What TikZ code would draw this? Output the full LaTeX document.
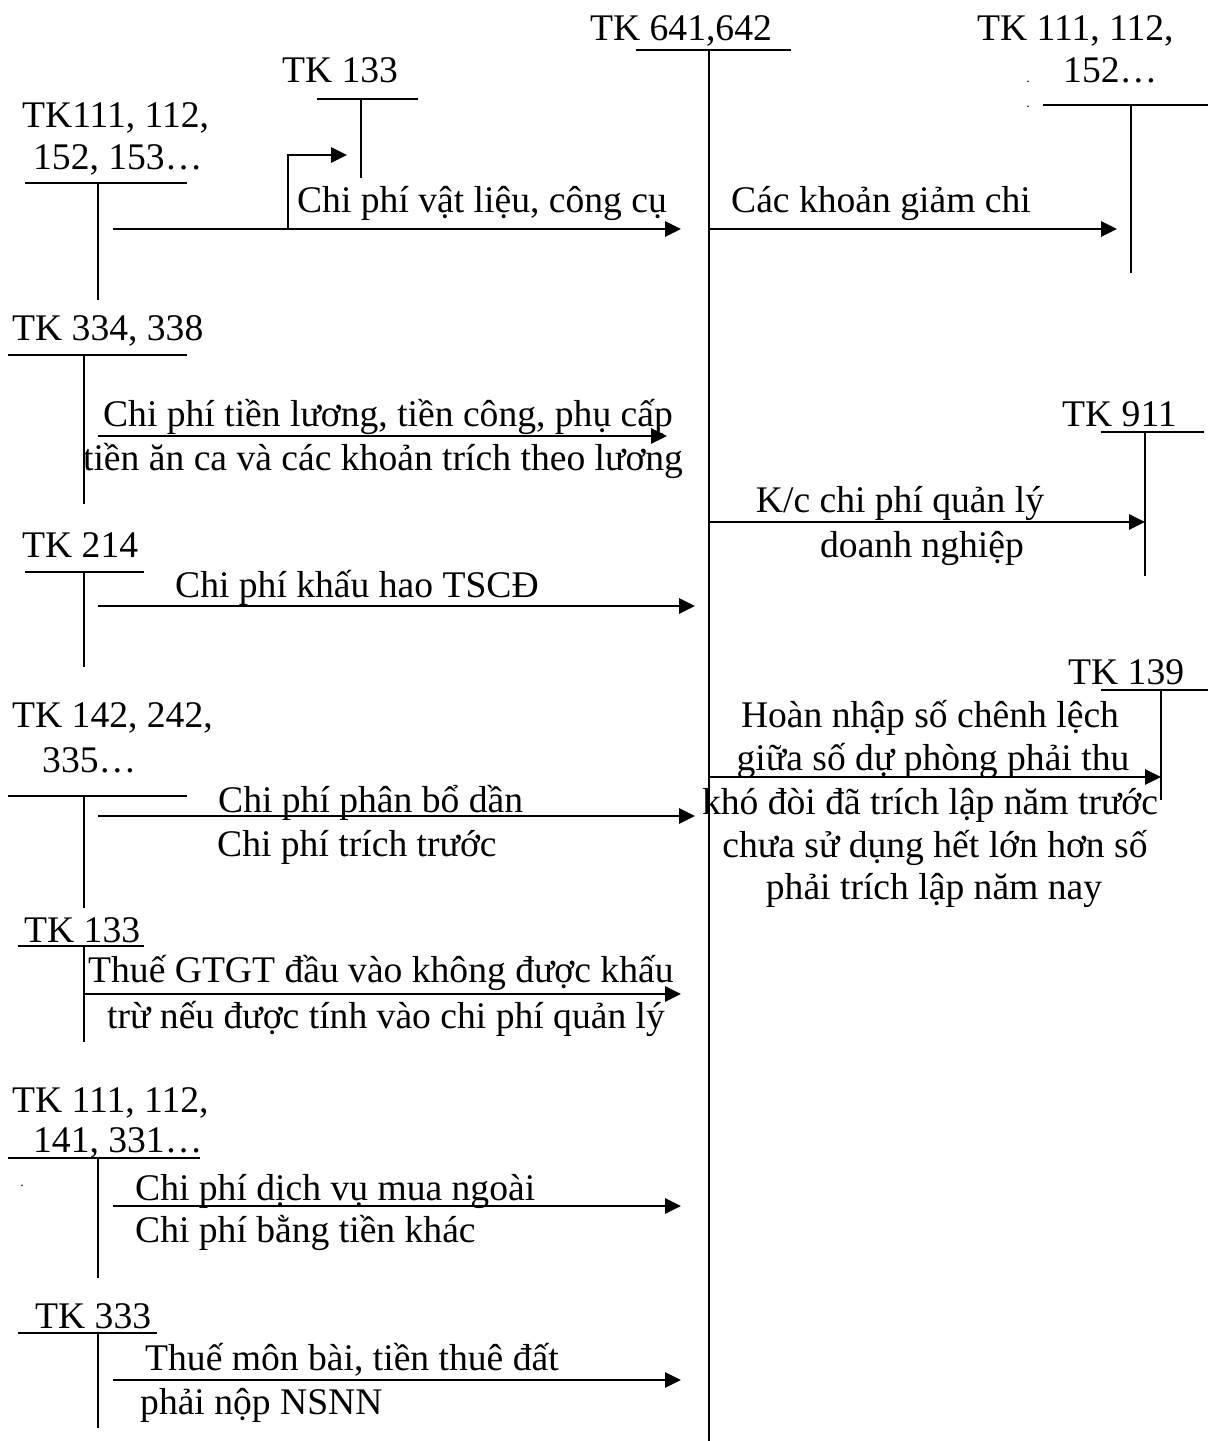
\documentclass[tikz,border=0pt]{standalone}
\usepackage{fontspec}
\setmainfont{Liberation Serif}
\usetikzlibrary{arrows.meta}
\begin{document}
\begin{tikzpicture}[x=1pt,y=-1pt,
  tline/.style={line width=1.8pt},
  flow/.style={line width=2.8pt,-{Triangle[length=16pt,width=15pt]}},
  lbl/.style={font=\fontsize{37.6}{43}\selectfont,inner sep=0pt,anchor=base},
  lbll/.style={lbl,anchor=base west}]
\useasboundingbox (0,0) rectangle (1208,1441);
% main account
\node[lbl] (mainT) at (681,40) {TK 641,642};
\coordinate (mainA) at (709,50);
\coordinate (mainB) at (709,1441);
\draw[tline] (636,50) -- (791,50);
\draw[tline] (mainA) -- (mainB);
% TK 133 top
\node[lbl] (t133a) at (340,82) {TK 133};
\coordinate (t133aTop) at (361,99);
\coordinate (t133aBot) at (361,178);
\draw[tline] (317,99) -- (418,99);
\draw[tline] (t133aTop) -- (t133aBot);
% TK 111,112,152,153
\node[lbll] (t111a1) at (22,127) {TK111, 112,};
\node[lbll] (t111a2) at (33,169) {152, 153…};
\coordinate (t111aTop) at (98,183);
\coordinate (t111aBot) at (98,300);
\draw[tline] (25,183) -- (187,183);
\draw[tline] (t111aTop) -- (t111aBot);
\coordinate (a1s) at (113,229);
\coordinate (a1e) at (681,229);
\draw[flow] (a1s) -- (a1e);
\coordinate (a1b) at (288,229);
\coordinate (a1t) at (347,155);
\draw[flow] (a1b) |- (a1t);
\node[lbl] (l1) at (482,212) {Chi phí vật liệu, công cụ};
% right TK 111,112,152
\node[lbll] (t111b1) at (977,40) {TK 111, 112,};
\node[lbll] (t111b2) at (1063,82) {152…};
\node[lbl] (dot1) at (1028,82) {\fontsize{14}{14}\selectfont .};
\node[lbl] (dot2) at (1028,107) {\fontsize{14}{14}\selectfont .};
\coordinate (t111bTop) at (1131,105);
\coordinate (t111bBot) at (1131,273);
\draw[tline] (1043,105) -- (1208,105);
\draw[tline] (t111bTop) -- (t111bBot);
\coordinate (a2s) at (709,229);
\coordinate (a2e) at (1117,229);
\draw[flow] (a2s) -- (a2e);
\node[lbll] (l2) at (731,212) {Các khoản giảm chi};
% TK 334,338
\node[lbll] (t334) at (12,340) {TK 334, 338};
\coordinate (t334Top) at (84,355);
\coordinate (t334Bot) at (84,504);
\draw[tline] (8,355) -- (187,355);
\draw[tline] (t334Top) -- (t334Bot);
\coordinate (a3s) at (98,436);
\coordinate (a3e) at (667,436);
\draw[flow] (a3s) -- (a3e);
\node[lbl] (l3a) at (388,426) {Chi phí tiền lương, tiền công, phụ cấp};
\node[lbl] (l3b) at (383,470) {tiền ăn ca và các khoản trích theo lương};
% TK 911
\node[lbll] (t911) at (1062,426) {TK 911};
\coordinate (t911Top) at (1145,432);
\coordinate (t911Bot) at (1145,576);
\draw[tline] (1101,432) -- (1204,432);
\draw[tline] (t911Top) -- (t911Bot);
\coordinate (a4s) at (709,522);
\draw[flow] (a4s) -- (t911Top |- a4s);
\node[lbl] (l4a) at (900,512) {K/c chi phí quản lý};
\node[lbl] (l4b) at (922,557) {doanh nghiệp};
% TK 214
\node[lbll] (t214) at (22,557) {TK 214};
\coordinate (t214Top) at (84,572);
\coordinate (t214Bot) at (84,667);
\draw[tline] (25,572) -- (144,572);
\draw[tline] (t214Top) -- (t214Bot);
\coordinate (a5s) at (98,606);
\coordinate (a5e) at (695,606);
\draw[flow] (a5s) -- (a5e);
\node[lbll] (l5) at (175,597) {Chi phí khấu hao TSCĐ};
% TK 139
\node[lbll] (t139) at (1068,684) {TK 139};
\coordinate (t139Top) at (1161,690);
\coordinate (t139Bot) at (1161,800);
\draw[tline] (1101,690) -- (1208,690);
\draw[tline] (t139Top) -- (t139Bot);
\coordinate (a6s) at (709,777);
\draw[flow] (a6s) -- (t139Top |- a6s);
\node[lbl] (l6a) at (930,727) {Hoàn nhập số chênh lệch};
\node[lbl] (l6b) at (933,770) {giữa số dự phòng phải thu};
\node[lbl] (l6c) at (930,814) {khó đòi đã trích lập năm trước};
\node[lbl] (l6d) at (935,857) {chưa sử dụng hết lớn hơn số};
\node[lbl] (l6e) at (934,899) {phải trích lập năm nay};
% TK 142,242,335
\node[lbll] (t142a) at (12,727) {TK 142, 242,};
\node[lbll] (t142b) at (42,772) {335…};
\coordinate (t142Top) at (84,796);
\coordinate (t142Bot) at (84,908);
\draw[tline] (8,796) -- (187,796);
\draw[tline] (t142Top) -- (t142Bot);
\coordinate (a7s) at (98,816);
\coordinate (a7e) at (695,816);
\draw[flow] (a7s) -- (a7e);
\node[lbll] (l7a) at (218,812) {Chi phí phân bổ dần};
\node[lbll] (l7b) at (217,856) {Chi phí trích trước};
% TK 133 second
\node[lbll] (t133b) at (24,942) {TK 133};
\coordinate (t133bTop) at (84,946);
\coordinate (t133bBot) at (84,1042);
\draw[tline] (18,946) -- (144,946);
\draw[tline] (t133bTop) -- (t133bBot);
\coordinate (a8s) at (84,994);
\coordinate (a8e) at (681,994);
\draw[flow] (a8s) -- (a8e);
\node[lbll] (l8a) at (88,982) {Thuế GTGT đầu vào không được khấu};
\node[lbll] (l8b) at (107,1028) {trừ nếu được tính vào chi phí quản lý};
% TK 111,112,141,331
\node[lbll] (t111c1) at (12,1112) {TK 111, 112,};
\node[lbll] (t111c2) at (33,1152) {141, 331…};
\node[lbl] (dot3) at (22,1186) {\fontsize{14}{14}\selectfont .};
\coordinate (t111cTop) at (98,1158);
\coordinate (t111cBot) at (98,1278);
\draw[tline] (8,1158) -- (200,1158);
\draw[tline] (t111cTop) -- (t111cBot);
\coordinate (a9s) at (113,1206);
\coordinate (a9e) at (681,1206);
\draw[flow] (a9s) -- (a9e);
\node[lbll] (l9a) at (135,1200) {Chi phí dịch vụ mua ngoài};
\node[lbll] (l9b) at (135,1242) {Chi phí bằng tiền khác};
% TK 333
\node[lbll] (t333) at (35,1328) {TK 333};
\coordinate (t333Top) at (98,1333);
\coordinate (t333Bot) at (98,1428);
\draw[tline] (18,1333) -- (157,1333);
\draw[tline] (t333Top) -- (t333Bot);
\coordinate (a10s) at (113,1380);
\coordinate (a10e) at (681,1380);
\draw[flow] (a10s) -- (a10e);
\node[lbll] (l10a) at (145,1370) {Thuế môn bài, tiền thuê đất};
\node[lbll] (l10b) at (140,1414) {phải nộp NSNN};
\end{tikzpicture}
\end{document}
